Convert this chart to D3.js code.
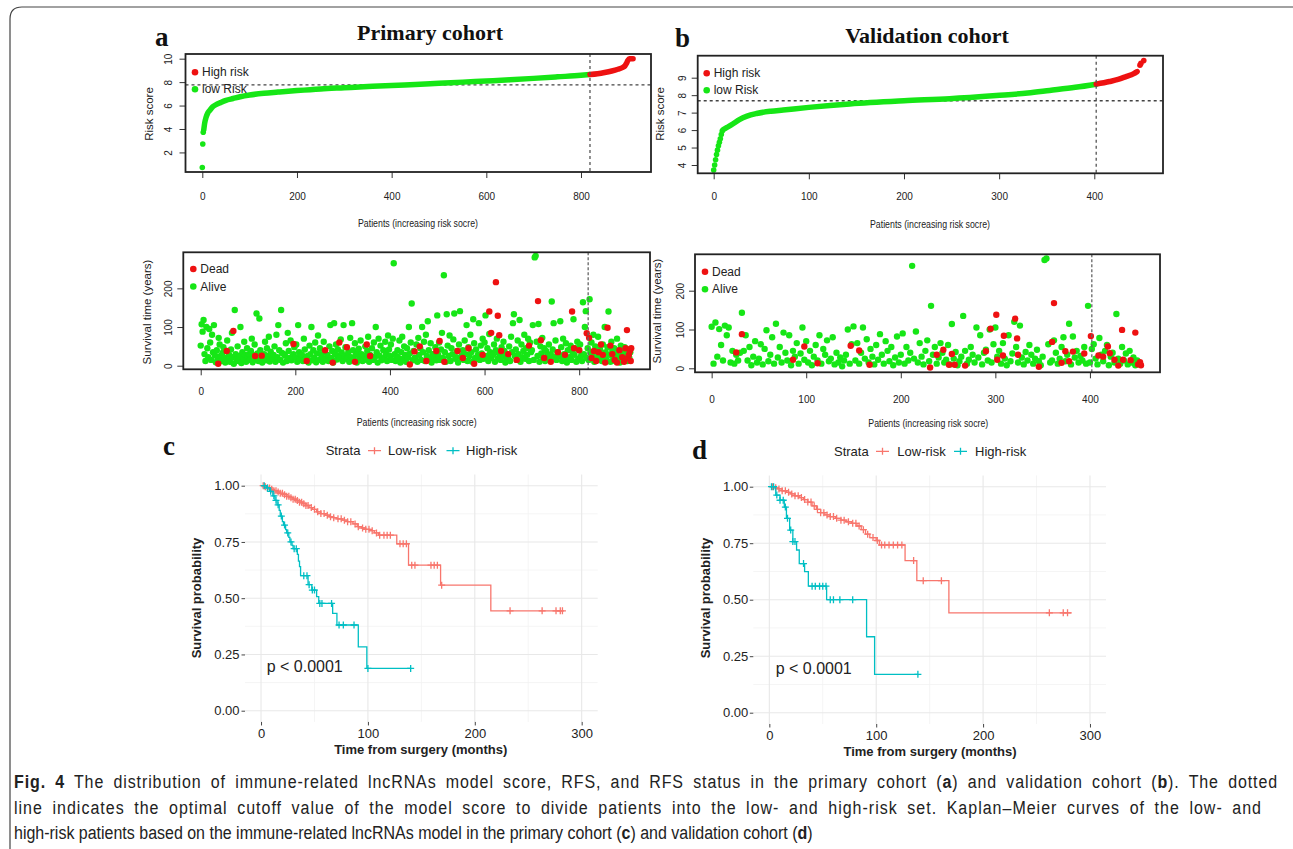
<!DOCTYPE html>
<html>
<head>
<meta charset="utf-8">
<script src="https://cdn.jsdelivr.net/npm/d3@7"></script>
<style>
  body { margin: 0; background: #fff; }
  svg { display: block; font-family: "Liberation Sans", Arial, sans-serif; }
</style>
</head>
<body>
<svg id="fig" width="1293" height="849"></svg>
<script>
// ---------- risk score curves (patient index, score) ----------
const riskAStart = [[0, 0.72], [1, 2.72], [2, 3.72]];
const riskALow = [[3,3.9],[5,4.5],[8,5.0],[12,5.4],[16,5.6],[22,5.9],[30,6.1],[38,6.25],[50,6.45],[65,6.6],[80,6.75],[100,6.9],[130,7.05],[160,7.15],[200,7.28],[250,7.42],[300,7.52],[350,7.62],[400,7.72],[450,7.8],[500,7.9],[550,8.0],[600,8.1],[650,8.2],[700,8.32],[750,8.45],[800,8.58],[819,8.65]];
const riskAHigh = [[819,8.65],[835,8.72],[850,8.82],[865,8.95],[878,9.1],[888,9.25],[893,9.4],[896,9.6],[899,9.85],[902,10.0],[910,10.0]];
const cutA = 819, medA = 7.76;

const riskBStart = [[0,3.71],[1,4.0],[2,4.3],[3,4.6],[4,4.85],[5,5.1],[6,5.3],[7,5.5],[8,5.75],[9,5.95]];
const riskBLow = [[10,6.02],[14,6.15],[20,6.35],[27,6.6],[35,6.8],[45,6.95],[60,7.08],[73,7.15],[100,7.3],[143,7.5],[200,7.68],[248,7.8],[297,7.98],[330,8.12],[353,8.27],[380,8.45],[402,8.63]];
const riskBHigh = [[402,8.63],[416,8.78],[425,8.9],[434,9.08],[441,9.22],[445,9.35]];
const riskBTail = [[448,9.72],[449,9.82],[452,9.98]];
const cutB = 402, medB = 7.68;

// ---------- survival time scatter ----------
const stepA = 2;
const aliveA = [
 52,107,88,118,30,12,100,45,22,95,60,15,80,35,105,27,9,40,18,72,55,25,12,33,48,
 20,8,38,65,14,28,10,42,85,22,5,144,30,16,50,12,25,100,7,35,18,62,28,10,45,
 24,30,15,38,70,9,27,55,18,135,32,12,122,40,20,8,22,30,62,14,45,25,75,11,36,
 18,18,28,50,10,80,22,105,40,15,144,33,8,30,26,58,12,85,38,20,65,14,24,30,48,
 22,55,10,105,35,18,28,28,12,70,42,16,20,25,8,52,30,100,14,40,20,60,9,32,78,
 15,45,30,24,10,62,36,18,15,28,12,50,105,20,38,8,110,30,55,16,42,26,22,68,34,
 12,105,26,48,18,20,35,10,72,22,110,40,15,58,28,8,32,44,20,65,30,12,14,25,50,
 18,38,75,10,28,25,45,15,60,22,100,35,8,70,26,52,14,18,40,20,62,30,12,78,42,
 25,55,15,70,265,30,12,24,40,20,65,8,35,75,18,50,28,10,45,22,100,32,60,161,14,
 38,20,20,55,10,72,28,45,15,100,35,62,12,80,25,115,40,18,58,8,30,30,22,48,14,
 130,28,60,15,42,85,20,234,35,10,133,52,25,78,12,45,30,68,135,18,22,38,8,55,141,
 22,25,40,15,65,30,105,12,48,25,80,35,10,120,58,20,42,18,28,110,15,52,32,70,18,
 60,130,25,45,12,82,35,20,28,28,55,10,40,70,18,32,20,15,48,25,62,38,8,16,30,
 20,50,12,75,35,110,133,25,42,15,65,30,118,10,55,22,38,80,18,45,28,70,12,60,35,
 40,105,15,280,284,62,25,108,10,50,32,72,20,45,12,38,24,28,55,18,30,166,42,110,22,
 65,15,35,28,25,115,48,12,70,30,20,58,8,40,20,22,52,15,35,120,28,45,10,62,18,
 40,55,25,12,164,30,100,141,20,45,15,172,35,60,28,80,10,50,22,38,75,18,42,30,12,
 55,25,100,35,15,48,140,28,10,62,38,20,45,12,30,70,18,40,8,52,25,35,15,48,22,
 30,12,42,20,35
];
const deadA = [[37,5],[55,38],[69,90],[115,25],[129,26],[196,56],[224,12],[263,40],[279,8],[293,60],[309,48],[326,10],[351,55],[358,25],[442,3],[452,37],[463,50],[477,12],[498,38],[505,64],[515,10],[543,38],[554,20],[566,45],[578,5],[596,28],[610,140],[614,85],[624,216],[628,129],[631,79],[635,38],[650,30],[668,15],[694,52],[713,167],[719,66],[726,20],[740,10],[755,35],[770,28],[785,140],[789,45],[800,40],[816,84],[821,72],[826,20],[831,38],[836,12],[841,35],[846,55],[850,28],[855,8],[860,98],[866,52],[870,30],[875,15],[880,8],[885,40],[891,22],[895,10],[898,45],[901,92],[903,20],[905,28],[907,38],[909,12],[910,45]];

const stepB = 2;
const aliveB = [
 107,12,118,30,101,60,20,110,85,105,15,45,12,35,20,40,143,45,85,20,55,8,30,70,15,
 25,62,10,50,98,18,35,80,12,115,28,55,15,92,40,20,85,8,45,30,65,12,38,105,22,
 70,15,45,8,30,60,20,85,12,50,35,72,18,25,80,10,40,15,28,5,20,35,100,12,62,
 108,20,65,12,40,105,25,75,15,50,30,10,60,22,88,35,12,70,45,18,55,8,28,82,15,
 35,90,12,55,20,40,264,25,95,15,65,30,10,45,72,18,161,35,55,12,28,65,40,15,22,
 60,10,114,25,42,8,18,30,135,45,12,22,55,35,15,105,28,85,10,40,48,20,100,15,62,
 105,30,45,12,65,25,8,85,18,38,120,55,15,110,28,10,42,20,60,35,12,25,48,18,8,
 30,279,283,62,15,20,72,40,12,25,55,80,18,35,115,10,82,28,45,15,32,20,55,12,161,
 15,50,62,25,10,78,35,18,45,60,8,30,40,15,140,25,12,55,20,38,10,45,15,28,8,
 20,12
];
const deadB = [[26,41],[32,88],[86,22],[98,56],[112,13],[147,58],[156,46],[167,9],[231,2],[238,35],[245,48],[251,9],[254,37],[257,9],[268,7],[290,44],[295,102],[301,138],[302,22],[308,33],[309,84],[321,128],[323,77],[324,35],[346,4],[360,68],[362,168],[370,14],[374,44],[378,18],[382,43],[394,38],[401,83],[409,33],[414,30],[419,56],[421,39],[426,22],[430,7],[434,99],[435,22],[443,21],[448,92],[451,10],[453,16],[454,8]];

// ---------- Kaplan-Meier steps [months, survival] and censor times ----------
const kmLowC = [[0,1],[3,0.995],[6,0.99],[9,0.984],[12,0.978],[15,0.972],[18,0.966],[21,0.96],[24,0.953],[27,0.947],[30,0.94],[33,0.934],[36,0.927],[39,0.92],[42,0.912],[45,0.903],[48,0.895],[52,0.884],[56,0.876],[60,0.869],[64,0.862],[68,0.858],[71,0.853],[76,0.847],[81,0.84],[86,0.83],[90,0.818],[94,0.812],[98,0.806],[102,0.8],[106,0.79],[110,0.78],[127,0.742],[138,0.647],[168,0.558],[215,0.444]];
const censLowC = [2,4,6,8,10,12,14,16,18,20,22,24,26,28,30,32,34,36,38,40,42,44,47,50,53,56,59,62,65,68,72,75,78,81,84,88,91,95,98,101,104,108,111,115,118,121,130,133,136,141,144,159,162,165,169,233,263,276,280,282];
const endLowC = 283;
const kmHighC = [[0,1],[5,0.99],[8,0.975],[11,0.955],[13,0.935],[15,0.915],[17,0.89],[18,0.865],[20,0.84],[21,0.825],[23,0.805],[24,0.79],[26,0.77],[27,0.75],[29,0.735],[30,0.72],[34,0.695],[35,0.665],[36,0.64],[37,0.6],[44,0.56],[47.5,0.536],[52,0.507],[54,0.477],[67,0.433],[71,0.381],[91,0.284],[99,0.188]];
const censHighC = [3,6,9,12,14,16,19,22,25,28,31,33,40,43,45,48,50,55,57,66,73,77,87,100,140];
const endHighC = 140;

const kmLowD = [[0,1],[4,0.995],[8,0.99],[12,0.982],[16,0.975],[20,0.968],[24,0.96],[28,0.952],[32,0.943],[36,0.932],[40,0.915],[44,0.9],[48,0.885],[52,0.875],[57,0.868],[62,0.86],[67,0.852],[72,0.845],[77,0.838],[82,0.826],[86,0.81],[90,0.79],[94,0.775],[100,0.762],[103,0.742],[127,0.673],[138,0.584],[168,0.442]];
const censLowD = [3,6,9,12,15,18,21,24,27,30,33,36,39,42,45,48,51,54,57,60,63,67,70,74,78,81,84,88,92,97,101,105,108,112,116,120,124,135,144,161,262,275,279];
const endLowD = 283;
const kmHighD = [[0,1],[6,0.963],[10,0.94],[14,0.91],[16,0.86],[19,0.808],[22,0.757],[25.5,0.72],[28,0.66],[33,0.624],[36.5,0.56],[53.6,0.5],[91,0.336],[98.5,0.17]];
const censHighD = [2,4,7,10,13,15,17,20,22,24,32,40,43,47,50,53,57,60,66,78,139];
const endHighD = 139;

const kmTicksX = [0, 100, 200, 300];
const kmTicksY = [0, 0.25, 0.5, 0.75, 1];

const captionLines = [
  '[Fig. 4]\u2002The distribution of immune-related lncRNAs model score, RFS, and RFS status in the primary cohort ([a]) and validation cohort ([b]). The dotted',
  'line indicates the optimal cutoff value of the model score to divide patients into the low- and high-risk set. Kaplan\u2013Meier curves of the low- and',
  'high-risk patients based on the immune-related lncRNAs model in the primary cohort ([c]) and validation cohort ([d])'
];
const captionWidths = [1264, 1248, 799];

// ---------- drawing ----------
const RED = '#ee1111', GREEN = '#16e616';
const KM_RED = '#F8766D', KM_TEAL = '#00BFC4';
const SERIF = '"Liberation Serif", "Times New Roman", serif';
const svg = d3.select('#fig');

// figure frame
svg.append('path')
  .attr('d', 'M10,849 V19 Q10,7 22,7 H1293')
  .attr('fill', 'none').attr('stroke', '#444').attr('stroke-width', 1.2);

function basePanel(o) {
  const [x0, y0, x1, y1] = o.box;
  const x = d3.scaleLinear().domain(o.xDomain).range([x0, x1]);
  const y = d3.scaleLinear().domain(o.yDomain).range([y1, y0]);
  const g = svg.append('g');

  const xAxis = g.append('g')
    .attr('transform', `translate(0,${y1})`)
    .call(d3.axisBottom(x).tickValues(o.xTicks).tickFormat(d3.format('d')).tickSize(6).tickPadding(o.xPad));
  xAxis.select('.domain').remove();
  xAxis.attr('font-family', null).attr('font-size', 10);
  xAxis.selectAll('line').attr('stroke', '#333');
  xAxis.selectAll('text').attr('fill', '#222');

  const yAxis = g.append('g')
    .attr('transform', `translate(${x0},0)`)
    .call(d3.axisLeft(y).tickValues(o.yTicks).tickFormat(d3.format('d')).tickSize(6));
  yAxis.select('.domain').remove();
  yAxis.attr('font-family', null).attr('font-size', 10);
  yAxis.selectAll('line').attr('stroke', '#333');
  yAxis.selectAll('text')
    .attr('x', null).attr('dy', null)
    .attr('fill', '#222')
    .attr('text-anchor', 'middle')
    .attr('dominant-baseline', 'central')
    .attr('transform', `translate(${-o.yOff},0) rotate(-90)`);

  g.append('text')
    .attr('transform', `translate(${o.yTitle[0]},${o.yTitle[1]}) rotate(-90)`)
    .attr('text-anchor', 'middle').attr('dominant-baseline', 'central')
    .attr('font-size', 11.5).attr('fill', '#222')
    .text(o.yLabel);

  g.append('text')
    .attr('x', o.xTitle[0]).attr('y', o.xTitle[1])
    .attr('text-anchor', 'middle').attr('dominant-baseline', 'central')
    .attr('font-size', 10.5).attr('fill', '#222')
    .attr('textLength', 120).attr('lengthAdjust', 'spacingAndGlyphs')
    .text('Patients (increasing risk socre)');

  return {g, x, y, box: o.box};
}

function drawBox(p) {
  const [x0, y0, x1, y1] = p.box;
  p.g.append('rect')
    .attr('x', x0).attr('y', y0).attr('width', x1 - x0).attr('height', y1 - y0)
    .attr('fill', 'none').attr('stroke', '#222').attr('stroke-width', 1.8);
}

function legendDots(g, items, lx, ly, gap) {
  items.forEach((it, i) => {
    g.append('circle').attr('cx', lx).attr('cy', ly + i * gap).attr('r', 3.3).attr('fill', it[1]);
    g.append('text').attr('x', lx + 7).attr('y', ly + i * gap)
      .attr('dominant-baseline', 'central').attr('font-size', 12).attr('fill', '#222')
      .text(it[0]);
  });
}

function riskPanel(o) {
  const p = basePanel(o);
  const {g, x, y} = p;
  const [x0, y0, x1, y1] = o.box;

  g.append('line')
    .attr('x1', x0).attr('x2', x1).attr('y1', y(o.med)).attr('y2', y(o.med))
    .attr('stroke', '#444').attr('stroke-width', 1.3).attr('stroke-dasharray', '3,3');

  const line = d3.line().x(d => x(d[0])).y(d => y(d[1])).curve(d3.curveMonotoneX);
  [[o.low, GREEN], [o.high, RED]].forEach(([pts, c]) => {
    g.append('path').attr('d', line(pts))
      .attr('fill', 'none').attr('stroke', c).attr('stroke-width', 5.5)
      .attr('stroke-linecap', 'round').attr('stroke-linejoin', 'round');
  });
  g.selectAll('.startDot').data(o.start).join('circle')
    .attr('cx', d => x(d[0])).attr('cy', d => y(d[1])).attr('r', 2.8).attr('fill', GREEN);
  g.selectAll('.tailDot').data(o.tail || []).join('circle')
    .attr('cx', d => x(d[0])).attr('cy', d => y(d[1])).attr('r', 2.8).attr('fill', RED);

  g.append('line')
    .attr('x1', x(o.cut)).attr('x2', x(o.cut)).attr('y1', y0).attr('y2', y1)
    .attr('stroke', '#555').attr('stroke-width', 1.3).attr('stroke-dasharray', '3,3');

  drawBox(p);
  legendDots(g, [['High risk', RED], ['low Risk', GREEN]], o.legend[0], o.legend[1], 17);
}

function survPanel(o) {
  const p = basePanel(o);
  const {g, x, y} = p;
  const [x0, y0, x1, y1] = o.box;

  g.selectAll('.alive').data(o.alive).join('circle')
    .attr('cx', (d, i) => x(i * o.step)).attr('cy', d => y(d))
    .attr('r', 3.2).attr('fill', GREEN);
  g.selectAll('.dead').data(o.dead).join('circle')
    .attr('cx', d => x(d[0])).attr('cy', d => y(d[1]))
    .attr('r', 3.2).attr('fill', RED);

  g.append('line')
    .attr('x1', x(o.cut)).attr('x2', x(o.cut)).attr('y1', y0).attr('y2', y1)
    .attr('stroke', '#666').attr('stroke-width', 1.3).attr('stroke-dasharray', '3,2');

  drawBox(p);
  legendDots(g, [['Dead', RED], ['Alive', GREEN]], o.legend[0], o.legend[1], 17.5);
}

function survAt(steps, t) {
  let v = 1;
  for (const s of steps) if (s[0] <= t) v = s[1];
  return v;
}

function kmPanel(o) {
  const x = d3.scaleLinear().domain([-15, 315]).range([o.left, o.right]);
  const y = d3.scaleLinear().domain([-0.05, 1.05]).range([o.bottom, o.top]);
  const g = svg.append('g');

  const minorX = [50, 150, 250], minorY = [0.125, 0.375, 0.625, 0.875];
  g.selectAll('.mx').data(minorX).join('line')
    .attr('x1', d => x(d)).attr('x2', d => x(d)).attr('y1', o.top).attr('y2', o.bottom)
    .attr('stroke', '#f2f2f2').attr('stroke-width', 0.8);
  g.selectAll('.my').data(minorY).join('line')
    .attr('x1', o.left).attr('x2', o.right).attr('y1', d => y(d)).attr('y2', d => y(d))
    .attr('stroke', '#f2f2f2').attr('stroke-width', 0.8);
  g.selectAll('.gx').data(kmTicksX).join('line')
    .attr('x1', d => x(d)).attr('x2', d => x(d)).attr('y1', o.top).attr('y2', o.bottom)
    .attr('stroke', '#e8e8e8').attr('stroke-width', 1.1);
  g.selectAll('.gy').data(kmTicksY).join('line')
    .attr('x1', o.left).attr('x2', o.right).attr('y1', d => y(d)).attr('y2', d => y(d))
    .attr('stroke', '#e8e8e8').attr('stroke-width', 1.1);

  const xAxis = g.append('g').attr('transform', `translate(0,${o.bottom})`)
    .call(d3.axisBottom(x).tickValues(kmTicksX).tickSize(3.5).tickPadding(o.xPad));
  xAxis.select('.domain').remove();
  const yAxis = g.append('g').attr('transform', `translate(${o.left},0)`)
    .call(d3.axisLeft(y).tickValues(kmTicksY).tickFormat(d3.format('.2f')).tickSize(3.5).tickPadding(o.yPad));
  yAxis.select('.domain').remove();
  [xAxis, yAxis].forEach(a => {
    a.attr('font-family', null).attr('font-size', 13);
    a.selectAll('line').attr('stroke', '#444');
    a.selectAll('text').attr('fill', '#222');
  });

  const line = d3.line().x(d => x(d[0])).y(d => y(d[1])).curve(d3.curveStepAfter);
  o.series.forEach(s => {
    const pts = s.steps.concat([[s.end, s.steps[s.steps.length - 1][1]]]);
    g.append('path').attr('d', line(pts))
      .attr('fill', 'none').attr('stroke', s.color).attr('stroke-width', 1.3);
    g.append('g').selectAll('path').data(s.cens).join('path')
      .attr('d', t => {
        const cx = x(t), cy = y(survAt(s.steps, t));
        return `M${cx - 3.5},${cy}H${cx + 3.5}M${cx},${cy - 3.5}V${cy + 3.5}`;
      })
      .attr('stroke', s.color).attr('stroke-width', 1.3);
  });

  g.append('text').attr('x', o.pText[0]).attr('y', o.pText[1])
    .attr('dominant-baseline', 'central').attr('font-size', 16).attr('fill', '#222')
    .text('p < 0.0001');

  g.append('text')
    .attr('x', o.xTitle[0]).attr('y', o.xTitle[1])
    .attr('text-anchor', 'middle').attr('dominant-baseline', 'central')
    .attr('font-size', 13).attr('font-weight', 'bold').attr('fill', '#222')
    .text('Time from surgery (months)');
  g.append('text')
    .attr('transform', `translate(${o.yTitle[0]},${o.yTitle[1]}) rotate(-90)`)
    .attr('text-anchor', 'middle').attr('dominant-baseline', 'central')
    .attr('font-size', 13).attr('font-weight', 'bold').attr('fill', '#222')
    .text('Survival probability');

  // legend
  const ly = o.legend.y;
  g.append('text').attr('x', o.legend.strata).attr('y', ly)
    .attr('dominant-baseline', 'central').attr('font-size', 13).attr('fill', '#222').text('Strata');
  o.legend.items.forEach(it => {
    g.append('path')
      .attr('d', `M${it.sym - 6.5},${ly}H${it.sym + 6.5}M${it.sym},${ly - 3.5}V${ly + 3.5}`)
      .attr('stroke', it.color).attr('stroke-width', 1.3);
    g.append('text').attr('x', it.tx).attr('y', ly)
      .attr('dominant-baseline', 'central').attr('font-size', 13).attr('fill', '#222').text(it.label);
  });
}

// panel titles and letters
[['a', 155, 45.7], ['b', 675, 47.3], ['c', 163, 455], ['d', 692, 459]].forEach(d => {
  svg.append('text').attr('x', d[1]).attr('y', d[2])
    .attr('font-family', SERIF).attr('font-weight', 'bold').attr('font-size', 27)
    .attr('fill', '#111').text(d[0]);
});
[['Primary cohort', 430, 39.5], ['Validation cohort', 927, 43.3]].forEach(d => {
  svg.append('text').attr('x', d[1]).attr('y', d[2]).attr('text-anchor', 'middle')
    .attr('font-family', SERIF).attr('font-weight', 'bold').attr('font-size', 22)
    .attr('fill', '#111').text(d[0]);
});

riskPanel({
  box: [185.5, 54, 651, 172], xDomain: [-35.5, 947.9], yDomain: [0.33, 10.4],
  xTicks: [0, 200, 400, 600, 800], yTicks: [2, 4, 6, 8, 10], xPad: 15, yOff: 17,
  yLabel: 'Risk score', yTitle: [149, 114], xTitle: [418, 223],
  start: riskAStart, low: riskALow, high: riskAHigh, cut: cutA, med: medA,
  legend: [195, 72.3]
});
riskPanel({
  box: [697.7, 55.7, 1163, 173.3], xDomain: [-16.8, 472.2], yDomain: [3.525, 10.26],
  xTicks: [0, 100, 200, 300, 400], yTicks: [4, 5, 6, 7, 8, 9], xPad: 14, yOff: 15.5,
  yLabel: 'Risk score', yTitle: [660, 114], xTitle: [930, 224.3],
  start: riskBStart, low: riskBLow, high: riskBHigh, tail: riskBTail, cut: cutB, med: medB,
  legend: [706.7, 73.3]
});
survPanel({
  box: [183.3, 252.3, 650, 369.3], xDomain: [-36.8, 949.7], yDomain: [-9.3, 293.2],
  xTicks: [0, 200, 400, 600, 800], yTicks: [0, 100, 200], xPad: 13, yOff: 15,
  yLabel: 'Survival time (years)', yTitle: [146.7, 312], xTitle: [416.7, 421.7],
  alive: aliveA, step: stepA, dead: deadA, cut: cutA, legend: [193.3, 269]
});
survPanel({
  box: [695, 254.3, 1160, 372.3], xDomain: [-17.6, 474.1], yDomain: [-10.3, 293.8],
  xTicks: [0, 100, 200, 300, 400], yTicks: [0, 100, 200], xPad: 18, yOff: 15,
  yLabel: 'Survival time (years)', yTitle: [657, 311], xTitle: [928.3, 422.7],
  alive: aliveB, step: stepB, dead: deadB, cut: cutB, legend: [705, 271.7]
});

kmPanel({
  left: 245, right: 597.7, top: 474.45, bottom: 721.95, xPad: 3, yPad: 2,
  series: [
    {steps: kmLowC, cens: censLowC, end: endLowC, color: KM_RED},
    {steps: kmHighC, cens: censHighC, end: endHighC, color: KM_TEAL}
  ],
  pText: [266.7, 666.7], xTitle: [420.7, 749], yTitle: [196.7, 598],
  legend: {y: 450.7, strata: 325.7, items: [
    {sym: 374.5, tx: 388, label: 'Low-risk', color: KM_RED},
    {sym: 453, tx: 466, label: 'High-risk', color: KM_TEAL}
  ]}
});
kmPanel({
  left: 753.3, right: 1106, top: 475.4, bottom: 724, xPad: 3, yPad: 1.5,
  series: [
    {steps: kmLowD, cens: censLowD, end: endLowD, color: KM_RED},
    {steps: kmHighD, cens: censHighD, end: endHighD, color: KM_TEAL}
  ],
  pText: [775.7, 668.3], xTitle: [930, 751.7], yTitle: [705, 598],
  legend: {y: 451.3, strata: 834, items: [
    {sym: 882.5, tx: 897.3, label: 'Low-risk', color: KM_RED},
    {sym: 960.5, tx: 975, label: 'High-risk', color: KM_TEAL}
  ]}
});

// caption: condensed by a horizontal scale, first two lines justified
const cap = svg.append('g')
  .attr('font-family', '"Liberation Sans", Arial, sans-serif')
  .attr('font-size', 18).attr('fill', '#222');
const capText = captionLines.map((ln, i) => {
  const t = cap.append('text').attr('x', 0).attr('y', 0);
  ln.split(/(\[[^\]]+\])/).filter(s => s.length).forEach(s => {
    const bold = s.startsWith('[');
    t.append('tspan').attr('font-weight', bold ? 'bold' : null)
      .text(bold ? s.slice(1, -1) : s);
  });
  return t;
});
const capScale = captionWidths[2] / capText[2].node().getComputedTextLength();
capText.forEach((t, i) => {
  t.attr('transform', `translate(14,${788 + i * 25.7}) scale(${capScale},1)`);
  if (i < 2) {
    const w = t.node().getComputedTextLength();
    const plain = captionLines[i].replace(/[\[\]]/g, '');
    const n = (plain.match(/ /g) || []).length;
    const extra = captionWidths[i] / capScale - w;
    t.attr('word-spacing', 0.4 * extra / n)
     .attr('letter-spacing', 0.6 * extra / plain.length);
  }
});
</script>
</body>
</html>
